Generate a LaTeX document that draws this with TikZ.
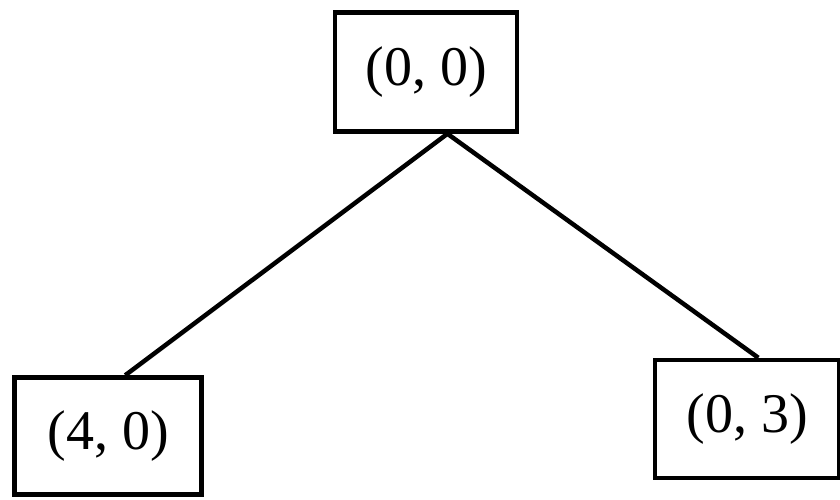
\documentclass[tikz,border=0pt]{standalone}
\usepackage{fontspec}
\setmainfont{Liberation Serif}
\usetikzlibrary{calc}
\begin{document}
\begin{tikzpicture}[x=1pt,y=-1pt,
  box/.style={draw, line width=4.5pt, inner sep=0pt, font=\fontsize{56}{62}\selectfont},
  edge/.style={line width=4.5pt}]
\useasboundingbox (0,0) rectangle (840,499);
\node[box, minimum width=182pt, minimum height=119pt] (root) at (426,72) {(0, 0)};
\node[box, minimum width=187pt, minimum height=117pt] (left) at (108,436) {(4, 0)};
\node[box, minimum width=184pt, minimum height=118pt] (right) at (747,419) {(0, 3)};
\coordinate (j) at ($(root.south west)!0.615!(root.south east)$);
\draw[edge] (j) -- ($(left.north west)!0.59!(left.north east)$);
\draw[edge] (j) -- ($(right.north west)!0.56!(right.north east)$);
\end{tikzpicture}
\end{document}
